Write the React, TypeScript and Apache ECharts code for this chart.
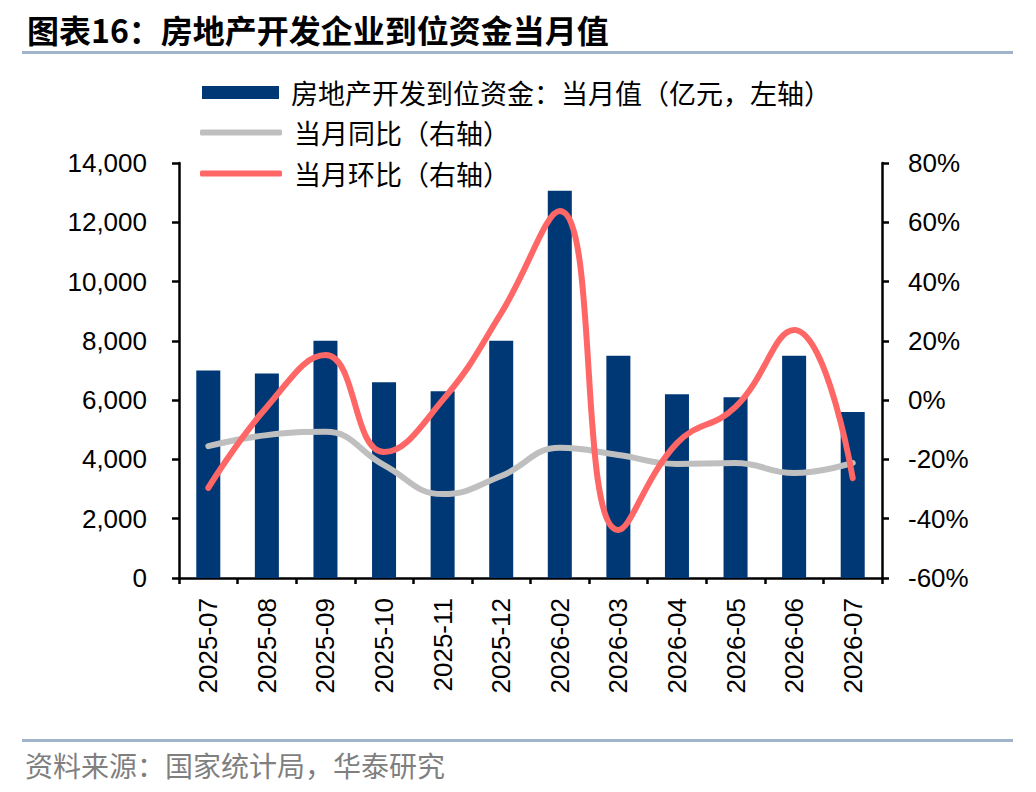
import React, { useEffect, useRef } from "react";
import * as echarts from "echarts";

const categories = [
  "2025-07", "2025-08", "2025-09", "2025-10", "2025-11", "2025-12",
  "2026-02", "2026-03", "2026-04", "2026-05", "2026-06", "2026-07",
];
const fundsMonthly = [7000, 6900, 8000, 6600, 6300, 8000, 13060, 7500, 6200, 6100, 7500, 5600];
const yoyPct = [-15.5, -11.8, -10.7, -21.9, -31.7, -25.6, -16.1, -18.5, -21.5, -21.2, -24.6, -21.2];
const momPct = [-29.6, -2.3, 15.2, -17.5, 0, 29.4, 63.8, -43.8, -14.5, -2.3, 23.7, -26.3];

const nameBar = "房地产开发到位资金：当月值（亿元，左轴）";
const nameYoy = "当月同比（右轴）";
const nameMom = "当月环比（右轴）";
const titleText = "图表16：房地产开发企业到位资金当月值";
const sourceText = "资料来源：国家统计局，华泰研究";

const NUM_FONT = "'Liberation Sans', Arial, sans-serif";
const CJK_FONT = "'Noto Sans CJK SC', sans-serif";

export default function App() {
  const ref = useRef<HTMLDivElement>(null);
  useEffect(() => {
    if (!ref.current) return;
    const chart = echarts.init(ref.current, undefined, { renderer: "svg" });
    const legendText = {
      fontFamily: CJK_FONT,
      fontSize: 27,
      color: "#000",
      padding: [0, 0, 0, 7],
    };
    chart.setOption({
      animation: false,
      backgroundColor: "#fff",
      grid: { left: 179, right: 154, top: 163, bottom: 214, containLabel: false },
      legend: [
        {
          orient: "vertical", left: 202, top: 79, padding: 0, itemWidth: 77, itemHeight: 13,
          data: [{ name: nameBar, icon: "rect" }], textStyle: legendText, selectedMode: false,
        },
        {
          orient: "vertical", left: 200, top: 119, padding: 0, itemWidth: 82, itemHeight: 6,
          data: [{ name: nameYoy, icon: "roundRect" }], textStyle: legendText, selectedMode: false,
        },
        {
          orient: "vertical", left: 200, top: 160, padding: 0, itemWidth: 82, itemHeight: 6,
          data: [{ name: nameMom, icon: "roundRect" }], textStyle: legendText, selectedMode: false,
        },
      ],
      xAxis: {
        type: "category",
        data: categories,
        boundaryGap: true,
        axisLine: { lineStyle: { color: "#000", width: 2.5 } },
        axisTick: { show: true, length: 6, lineStyle: { color: "#000", width: 2.5 } },
        axisLabel: {
          interval: 0, rotate: 90, margin: 20,
          fontFamily: NUM_FONT, fontSize: 26, color: "#000",
        },
        splitLine: { show: false },
      },
      yAxis: [
        {
          type: "value", min: 0, max: 14000, interval: 2000, position: "left",
          axisLine: { show: true, lineStyle: { color: "#000", width: 2.5 } },
          axisTick: { show: true, length: 7, lineStyle: { color: "#000", width: 2.5 } },
          axisLabel: {
            margin: 32, fontFamily: NUM_FONT, fontSize: 26, color: "#000",
            formatter: (v: number) => v.toLocaleString("en-US"),
          },
          splitLine: { show: false },
        },
        {
          type: "value", min: -60, max: 80, interval: 20, position: "right",
          axisLine: { show: true, lineStyle: { color: "#000", width: 2.5 } },
          axisTick: { show: true, length: 7, lineStyle: { color: "#000", width: 2.5 } },
          axisLabel: {
            margin: 26, fontFamily: NUM_FONT, fontSize: 26, color: "#000",
            formatter: "{value}%",
          },
          splitLine: { show: false },
        },
      ],
      series: [
        {
          name: nameBar, type: "bar", data: fundsMonthly, barWidth: "41%",
          itemStyle: { color: "#003876" }, yAxisIndex: 0,
        },
        {
          name: nameYoy, type: "line", data: yoyPct, yAxisIndex: 1, smooth: 0.45,
          showSymbol: false, symbol: "none",
          lineStyle: { color: "#BFBFBF", width: 6, cap: "round" },
          itemStyle: { color: "#BFBFBF" }, z: 3,
        },
        {
          name: nameMom, type: "line", data: momPct, yAxisIndex: 1, smooth: 0.45,
          showSymbol: false, symbol: "none",
          lineStyle: { color: "#FF6666", width: 6, cap: "round" },
          itemStyle: { color: "#FF6666" }, z: 4,
        },
      ],
      graphic: [
        {
          type: "text", left: 27, top: 13,
          style: {
            text: titleText, fontFamily: CJK_FONT, fontWeight: "bold",
            fontSize: 32, fill: "#000",
          },
        },
        {
          type: "rect", shape: { x: 22, y: 51, width: 991, height: 3 },
          style: { fill: "#A0B4CC" },
        },
        {
          type: "rect", shape: { x: 22, y: 739, width: 991, height: 3 },
          style: { fill: "#A0B4CC" },
        },
        {
          type: "text", left: 25, top: 751,
          style: {
            text: sourceText, fontFamily: CJK_FONT, fontSize: 28, fill: "#7F7F7F",
          },
        },
      ],
    });
    return () => chart.dispose();
  }, []);
  return (
    <div
      ref={ref}
      style={{ position: "fixed", left: 0, top: 0, width: 1036, height: 792, background: "#fff" }}
    />
  );
}
